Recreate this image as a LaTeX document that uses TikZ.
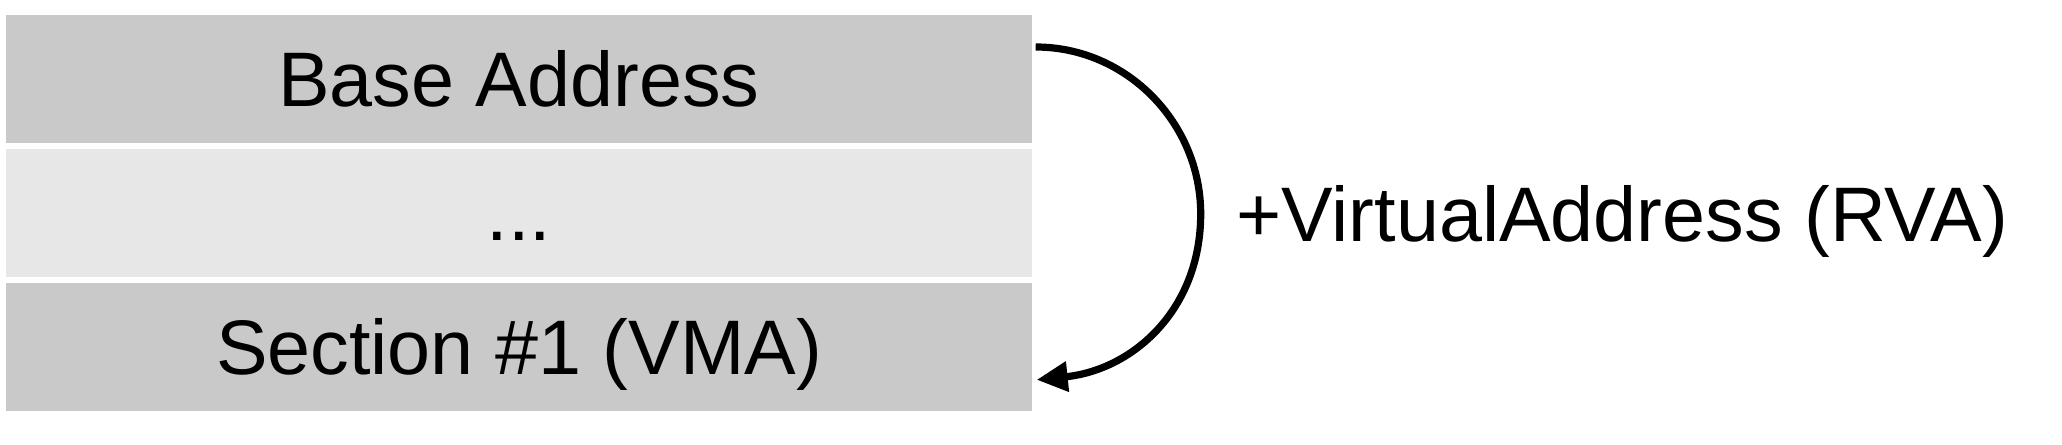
\documentclass[tikz,border=0pt]{standalone}
\usepackage{fontspec}
\setmainfont{Liberation Sans}
\usepackage{xcolor}
\usepackage{tikz}
\usetikzlibrary{arrows.meta,positioning,calc}

\definecolor{rowdark}{gray}{0.79}
\definecolor{rowlight}{gray}{0.905}

\begin{document}
\begin{tikzpicture}[x=0.1mm, y=0.1mm,
    row/.style={minimum width=102.6mm, minimum height=12.75mm, inner sep=0pt,
        text height=15.75pt, text depth=0pt, font=\fontsize{22}{26}\selectfont},
    reloc/.style={line width=0.72mm, -{Triangle[length=3.1mm, width=2.9mm]}}]
    \useasboundingbox (0,0) rectangle (2062,-444);
    \node[row, fill=rowdark] (base) at (519,-79) {Base Address};
    \node[row, fill=rowlight, below=0.5mm of base] (gap) {...};
    \node[row, fill=rowdark, below=0.5mm of gap] (sect) {Section \#1 (VMA)};
    % arrow from base to section
    \coordinate (from) at ($(base.east)+(3,32)$);
    \coordinate (to) at ($(sect.east)+(4,-33)$);
    \coordinate (bend) at ($(gap.east)+(168,-1)$);
    \draw[reloc] (from) .. controls +(91,0) and +(0,91) .. (bend)
        .. controls +(0,-96) and +(96,10) .. (to);
    \node[anchor=west, inner sep=0pt, text height=15.5pt, text depth=0pt,
        font=\fontsize{22}{26}\selectfont] (rva) at ($(bend)+(35,0)$) {+VirtualAddress (RVA)};
\end{tikzpicture}
\end{document}
